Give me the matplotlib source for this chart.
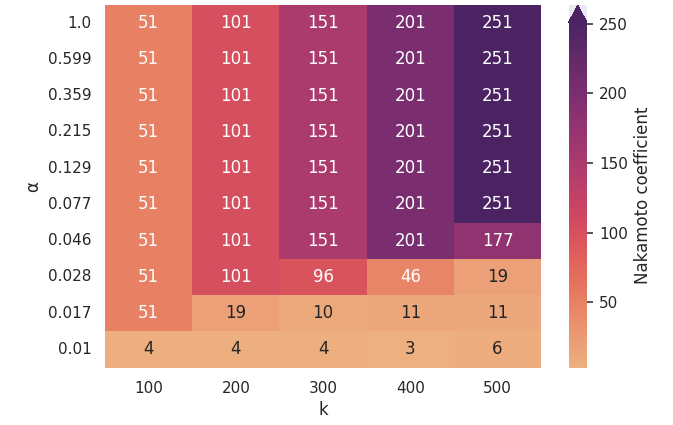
import numpy as np
import pandas as pd
import seaborn as sns
import matplotlib
matplotlib.use("Agg")
import matplotlib.pyplot as plt

sns.set_theme()

k_vals = [100, 200, 300, 400, 500]
alpha_labels = ["1.0", "0.599", "0.359", "0.215", "0.129", "0.077", "0.046", "0.028", "0.017", "0.01"]

nc = [
    [51, 101, 151, 201, 251],
    [51, 101, 151, 201, 251],
    [51, 101, 151, 201, 251],
    [51, 101, 151, 201, 251],
    [51, 101, 151, 201, 251],
    [51, 101, 151, 201, 251],
    [51, 101, 151, 201, 177],
    [51, 101, 96, 46, 19],
    [51, 19, 10, 11, 11],
    [4, 4, 4, 3, 6],
]

df = pd.DataFrame(nc, index=alpha_labels, columns=k_vals)

fig = plt.figure(figsize=(6.73, 4.25), dpi=100)
ax = fig.add_axes([0.156, 0.135, 0.648, 0.853])
cax = fig.add_axes([0.845, 0.135, 0.027, 0.853])
# light background behind the colorbar incl. the extend triangle
bg = plt.Rectangle((0.845, 0.135), 0.027, 0.853, transform=fig.transFigure,
                   facecolor="#EAEAF2", edgecolor="none", zorder=-5)
fig.patches.append(bg)
sns.heatmap(df, annot=True, fmt="d", cmap="flare", ax=ax, cbar=False)
cb = fig.colorbar(ax.collections[0], cax=cax, extend="max")
cb.outline.set_linewidth(0)
cb.set_label("Nakamoto coefficient")
cb.ax.tick_params(axis="y", which="major", right=True, length=4.5, width=1.1,
                  color="#262626", direction="out", pad=4.5)
ax.set_xlabel("k")
ax.set_ylabel("α")
ax.tick_params(axis="y", rotation=0)
plt.savefig("out.png", dpi=100)
